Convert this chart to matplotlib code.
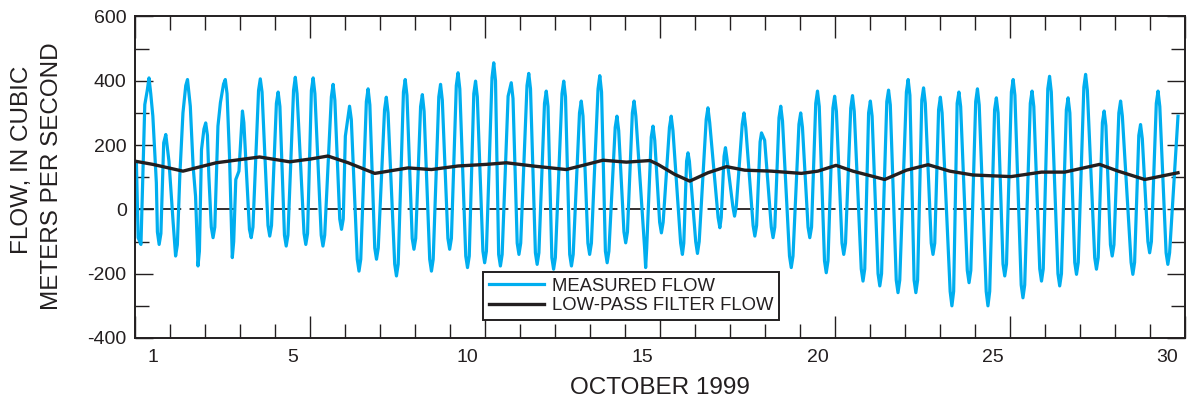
import matplotlib
matplotlib.use("Agg")
import matplotlib.pyplot as plt
from matplotlib.ticker import MultipleLocator

plt.rcParams['font.family'] = ['Liberation Sans', 'DejaVu Sans']
plt.rcParams['axes.unicode_minus'] = False

INK = '#231F20'
BLUE = '#00AEEF'

# Measured flow, digitized vertices (time in days after 00:00, October 1 1999; flow in m3/s)
measured_day = [
    0.04, 0.09, 0.17, 0.28, 0.35, 0.40, 0.45, 0.51, 0.61, 0.64, 0.69, 0.74, 0.82, 0.88, 0.97,
    1.09, 1.16, 1.21, 1.28, 1.37, 1.45, 1.50, 1.58, 1.66, 1.73, 1.80, 1.84, 1.90, 1.97,
    2.02, 2.07, 2.11, 2.18, 2.23, 2.28, 2.37, 2.44, 2.53, 2.58, 2.63, 2.70, 2.78, 2.82,
    2.88, 2.97, 3.07, 3.11, 3.19, 3.27, 3.32, 3.37, 3.53, 3.58, 3.63, 3.80, 3.85, 3.90,
    4.04, 4.09, 4.14, 4.27, 4.32, 4.37, 4.53, 4.58, 4.63, 4.83, 4.88, 4.93,
    5.04, 5.09, 5.14, 5.32, 5.37, 5.42, 5.61, 5.66, 5.71, 5.85, 5.90, 5.95, 6.01, 6.13, 6.18,
    6.35, 6.40, 6.45, 6.61, 6.66, 6.71, 6.85, 6.90, 6.95, 7.13, 7.18, 7.23, 7.42, 7.47, 7.52,
    7.67, 7.72, 7.77, 7.92, 7.97, 8.02, 8.16, 8.21, 8.26, 8.42, 8.47, 8.52, 8.68, 8.73, 8.78,
    8.94, 8.99, 9.04, 9.18, 9.23, 9.28, 9.45, 9.50, 9.55, 9.68, 9.73, 9.78, 9.94, 9.99, 10.04,
    10.20, 10.25, 10.30, 10.39, 10.44, 10.49, 10.66, 10.75, 10.80, 10.92, 10.97, 11.02,
    11.20, 11.25, 11.30, 11.44, 11.49, 11.54, 11.70, 11.75, 11.80, 11.91, 11.96, 12.01,
    12.20, 12.25, 12.30, 12.42, 12.47, 12.52, 12.70, 12.75, 12.80, 12.94, 12.99, 13.04,
    13.23, 13.28, 13.33, 13.44, 13.49, 13.54, 13.72, 13.77, 13.82, 13.97, 14.02, 14.07,
    14.21, 14.26, 14.31, 14.56, 14.59, 14.62, 14.75, 14.80, 14.85, 14.99, 15.04, 15.09,
    15.27, 15.32, 15.37, 15.59, 15.64, 15.68, 15.76, 15.80, 15.84, 16.02, 16.07, 16.12,
    16.32, 16.37, 16.42, 16.66, 16.71, 16.75, 16.83, 16.87, 16.91, 17.08, 17.13, 17.18,
    17.35, 17.40, 17.45, 17.66, 17.71, 17.76, 17.86, 17.90, 17.99, 18.18, 18.23, 18.28,
    18.40, 18.45, 18.50, 18.70, 18.75, 18.80, 18.97, 19.02, 19.07, 19.23, 19.28, 19.33,
    19.45, 19.50, 19.55, 19.70, 19.75, 19.80, 19.94, 19.99, 20.04, 20.20, 20.25, 20.30,
    20.45, 20.50, 20.55, 20.75, 20.80, 20.85, 20.96, 21.01, 21.06, 21.23, 21.28, 21.33,
    21.48, 21.53, 21.58, 21.75, 21.80, 21.85, 22.04, 22.09, 22.14, 22.26, 22.31, 22.36,
    22.48, 22.53, 22.58, 22.75, 22.80, 22.85, 22.96, 23.01, 23.06, 23.29, 23.34, 23.39,
    23.49, 23.54, 23.59, 23.78, 23.83, 23.88, 24.02, 24.07, 24.12, 24.32, 24.37, 24.42,
    24.56, 24.61, 24.66, 24.80, 24.85, 24.90, 25.04, 25.09, 25.14, 25.32, 25.37, 25.42,
    25.58, 25.63, 25.68, 25.85, 25.90, 25.95, 26.08, 26.13, 26.18, 26.37, 26.42, 26.47,
    26.61, 26.66, 26.71, 26.85, 26.90, 26.95, 27.11, 27.16, 27.21, 27.42, 27.47, 27.52,
    27.64, 27.69, 27.74, 27.87, 27.92, 27.97, 28.11, 28.16, 28.21, 28.46, 28.51, 28.56,
    28.68, 28.73, 28.78, 28.94, 28.99, 29.04, 29.18, 29.23, 29.28, 29.46, 29.51, 29.56,
    29.80,
]
measured_flow = [
    145, -88, -109, 326, 370, 409, 360, 290, 83, -70, -109, -75, 207, 233, 150,
    -41, -145, -110, 104, 300, 385, 404, 321, 135, 41, -176, -130, 186, 250,
    269, 230, 104, -55, -88, -55, 259, 332, 390, 404, 360, 166, -150, -100,
    93, 119, 306, 270, 104, -62, -88, -55, 370, 406, 365, -50, -83, -50,
    330, 365, 320, -80, -114, -80, 370, 411, 360, -75, -109, -75,
    370, 409, 360, -80, -114, -80, 350, 389, 340, -30, -62, -30, 228, 321, 280,
    -155, -192, -155, 335, 375, 325, -120, -155, -120, 310, 349, 300, -170, -207, -170,
    365, 404, 355, -90, -124, -90, 320, 357, 305, -155, -192, -155, 350, 389, 340,
    -90, -124, -90, 385, 425, 375, -145, -181, -145, 360, 399, 350, -130, -166, -130,
    410, 456, 400, -140, -176, -140, 352, 394, 345, -105, -140, -105,
    385, 423, 375, -135, -171, -135, 330, 368, 320, -150, -186, -150,
    360, 399, 350, -140, -176, -140, 300, 337, 290, -105, -140, -105,
    375, 416, 365, -130, -166, -130, 255, 290, 245, -70, -104, -70,
    300, 337, 290, -120, -181, -120, 225, 259, 215, -40, -73, -40,
    255, 290, 245, -105, -140, -105, 150, 176, 150, -100, -137, -100,
    280, 316, 270, -25, -57, -25, 165, 192, 160, 10, -21, 10,
    265, 300, 255, -50, -83, -50, 210, 238, 215, -55, -88, -55,
    285, 321, 275, -145, -181, -145, 265, 300, 255, -55, -88, -55,
    330, 368, 320, -160, -197, -160, 315, 352, 305, -105, -140, -105,
    315, 354, 305, -185, -223, -185, 300, 337, 290, -200, -238, -200,
    335, 371, 325, -220, -259, -220, 365, 404, 355, -220, -259, -220,
    340, 378, 330, -105, -140, -105, 310, 349, 300, -255, -300, -255,
    330, 365, 320, -190, -228, -190, 335, 375, 325, -255, -300, -255,
    310, 347, 300, -170, -207, -170, 365, 404, 355, -235, -275, -235,
    330, 368, 320, -185, -223, -185, 375, 414, 365, -200, -238, -200,
    310, 347, 300, -165, -202, -165, 380, 420, 370, -150, -186, -150,
    270, 306, 260, -110, -145, -110, 300, 337, 290, -165, -202, -165,
    230, 264, 220, -100, -135, -100, 330, 368, 320, -135, -171, -135,
    290,
]

# Low-pass filtered flow
lowpass_day = [
    0.0, 0.51, 1.37, 2.32, 3.56, 4.42, 5.03, 5.51, 6.09, 6.85, 7.80, 8.47, 9.23,
    10.03, 10.61, 11.37, 12.32, 12.80, 13.37, 14.04, 14.71, 14.94, 15.42, 15.85,
    16.37, 16.90, 17.42, 18.18, 19.04, 19.51, 20.03, 20.51, 21.42, 22.04, 22.66,
    23.28, 23.94, 25.03, 25.90, 26.56, 27.56, 28.09, 28.85, 29.80,
]
lowpass_flow = [
    150, 140, 119, 145, 163, 148, 157, 166, 145, 112, 129, 124, 135,
    140, 145, 135, 124, 137, 153, 147, 152, 140, 109, 88,
    114, 133, 122, 119, 112, 119, 137, 119, 93, 122, 139,
    119, 107, 102, 116, 116, 140, 119, 93, 114,
]

day_labels = [1, 5, 10, 15, 20, 25, 30]

W, H = 1187, 404
fig = plt.figure(figsize=(W / 100, H / 100), dpi=100)
ax = fig.add_axes([135 / W, 1 - 338 / H, 1050 / W, 321.5 / H])

ax.axhline(0, color=INK, lw=1.3, dashes=(10.5, 4.6), zorder=1)
ax.plot(measured_day, measured_flow, color=BLUE, lw=2.3, solid_joinstyle='round',
        label='MEASURED FLOW', zorder=2)
ax.plot(lowpass_day, lowpass_flow, color=INK, lw=2.4, label='LOW-PASS FILTER FLOW',
        zorder=3)

ax.set_xlim(0, 30)
ax.set_ylim(-400, 600)

for side in ax.spines.values():
    side.set_color(INK)
    side.set_linewidth(1.4)

# day boundaries as ticks, five-day marks longer
ax.xaxis.set_major_locator(MultipleLocator(5))
ax.xaxis.set_minor_locator(MultipleLocator(1))
ax.tick_params(axis='x', which='both', direction='in', top=True, bottom=True,
               labelbottom=False, color=INK, width=1.0)
ax.tick_params(axis='x', which='major', length=16)
ax.tick_params(axis='x', which='minor', length=10)

ax.yaxis.set_major_locator(MultipleLocator(200))
ax.yaxis.set_minor_locator(MultipleLocator(100))
ax.tick_params(axis='y', which='both', direction='in', left=True, right=True,
               color=INK, width=1.0, labelsize=14, labelcolor=INK, pad=6)
ax.tick_params(axis='y', which='major', length=13)
ax.tick_params(axis='y', which='minor', length=10)

# day numbers centred on each day
sec = ax.secondary_xaxis('bottom')
sec.set_xticks([d - 0.5 for d in day_labels], labels=[str(d) for d in day_labels])
sec.tick_params(length=0, labelsize=14, labelcolor=INK, pad=8)
sec.spines['bottom'].set_visible(False)
sec.set_xlabel('OCTOBER 1999', fontsize=17.5, color=INK, labelpad=7.5)

fig.text(22 / W, 1 - 160 / H, 'FLOW, IN CUBIC', rotation=90, ha='center', va='center',
         fontsize=17.5, color=INK)
fig.text(52 / W, 1 - 176 / H, 'METERS PER SECOND', rotation=90, ha='center', va='center',
         fontsize=17.5, color=INK)

leg = ax.legend(loc='upper left', bbox_to_anchor=((483 - 135) / 1050, (338 - 272) / 321.5),
                borderaxespad=0, fontsize=13.3, frameon=True, fancybox=False,
                framealpha=1, edgecolor=INK, handlelength=3.0, handletextpad=0.45,
                labelspacing=0.15, borderpad=0.3)
leg.get_frame().set_linewidth(1.4)
for t in leg.get_texts():
    t.set_color(INK)

fig.savefig('out.png', dpi=100)
